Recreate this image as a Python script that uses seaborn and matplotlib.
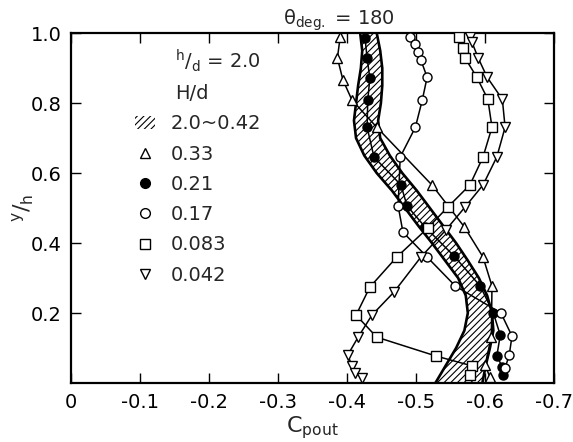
import numpy as np
import pandas as pd
import matplotlib
matplotlib.use("Agg")
import matplotlib.pyplot as plt
import seaborn as sns
from matplotlib.patches import Patch
from matplotlib.lines import Line2D

# ---------------- data ----------------
band_y = [1.0, 0.95, 0.9, 0.85, 0.8, 0.75, 0.7, 0.65, 0.6, 0.55, 0.5,
          0.45, 0.4, 0.35, 0.3, 0.25, 0.2, 0.15, 0.1, 0.05, 0.0]
band_left = [-0.419, -0.422, -0.420, -0.416, -0.413, -0.410, -0.413, -0.425,
             -0.443, -0.465, -0.484, -0.503, -0.523, -0.542, -0.561, -0.572,
             -0.575, -0.570, -0.558, -0.543, -0.528]
band_right = [-0.443, -0.448, -0.451, -0.451, -0.449, -0.445, -0.448, -0.462,
              -0.480, -0.501, -0.520, -0.539, -0.558, -0.575, -0.591, -0.603,
              -0.610, -0.612, -0.607, -0.601, -0.596]

h033_c = [-0.390, -0.386, -0.394, -0.407, -0.443, -0.523, -0.570, -0.597,
          -0.610, -0.609, -0.600, -0.607]
h033_y = [0.989, 0.929, 0.866, 0.809, 0.731, 0.566, 0.446, 0.360,
          0.277, 0.131, 0.051, 0.017]

h021_c = [-0.426, -0.429, -0.433, -0.430, -0.429, -0.439, -0.478, -0.487,
          -0.513, -0.555, -0.593, -0.612, -0.622, -0.617, -0.625, -0.626]
h021_y = [0.986, 0.929, 0.871, 0.809, 0.731, 0.646, 0.566, 0.506,
          0.446, 0.363, 0.277, 0.200, 0.137, 0.077, 0.046, 0.023]

h017_c = [-0.491, -0.499, -0.503, -0.507, -0.516, -0.509, -0.499, -0.477,
          -0.474, -0.481, -0.516, -0.557, -0.623, -0.639, -0.635, -0.629]
h017_y = [0.989, 0.969, 0.946, 0.923, 0.874, 0.809, 0.731, 0.646,
          0.506, 0.431, 0.360, 0.277, 0.200, 0.134, 0.080, 0.043]

h0083_c = [-0.562, -0.568, -0.571, -0.588, -0.604, -0.610, -0.597, -0.578,
           -0.546, -0.517, -0.472, -0.433, -0.413, -0.443, -0.529, -0.581,
           -0.578]
h0083_y = [0.989, 0.957, 0.929, 0.874, 0.811, 0.731, 0.646, 0.566,
           0.503, 0.443, 0.360, 0.274, 0.194, 0.131, 0.077, 0.049, 0.023]

h0042_c = [-0.578, -0.581, -0.590, -0.603, -0.625, -0.629, -0.617, -0.597,
           -0.571, -0.543, -0.507, -0.468, -0.436, -0.416, -0.401, -0.407,
           -0.412, -0.422]
h0042_y = [0.989, 0.974, 0.929, 0.874, 0.811, 0.731, 0.646, 0.566,
           0.503, 0.437, 0.360, 0.260, 0.194, 0.131, 0.080, 0.049,
           0.029, 0.014]

x_ticks = [0, -0.1, -0.2, -0.3, -0.4, -0.5, -0.6, -0.7]
x_tick_labels = ["0", "-0.1", "-0.2", "-0.3", "-0.4", "-0.5", "-0.6", "-0.7"]
y_ticks = [0.2, 0.4, 0.6, 0.8, 1.0]
y_tick_labels = ["0.2", "0.4", "0.6", "0.8", "1.0"]

series = [
    ("0.33", h033_c, h033_y, "^", "white"),
    ("0.21", h021_c, h021_y, "o", "black"),
    ("0.17", h017_c, h017_y, "o", "white"),
    ("0.083", h0083_c, h0083_y, "s", "white"),
    ("0.042", h0042_c, h0042_y, "v", "white"),
]

# ---------------- style ----------------
sns.set_theme(style="ticks")
plt.rcParams["font.family"] = ["DejaVu Sans"]
plt.rcParams["mathtext.default"] = "regular"
plt.rcParams["hatch.linewidth"] = 0.8
plt.rcParams["hatch.color"] = "black"

fig = plt.figure(figsize=(5.73, 4.42), dpi=100)
ax = fig.add_axes([0.124, 0.1335, 0.843, 0.7915])

# hatched band
ax.fill_betweenx(band_y, band_left, band_right, facecolor="white",
                 edgecolor="black", hatch="/////", linewidth=0, zorder=2)
sns.lineplot(x=band_left, y=band_y, sort=False, estimator=None, color="black",
             linewidth=1.9, ax=ax, zorder=3)
sns.lineplot(x=band_right, y=band_y, sort=False, estimator=None, color="black",
             linewidth=1.9, ax=ax, zorder=3)

for name, cs, ys, mk, fc in series:
    df = pd.DataFrame({"c": cs, "y": ys})
    sns.lineplot(data=df, x="c", y="y", sort=False, estimator=None,
                 color="black", linewidth=1.1, marker=mk, markersize=6.5,
                 markerfacecolor=fc, markeredgecolor="black",
                 markeredgewidth=1.0, ax=ax, zorder=4)

ax.set_xlim(0, -0.7)
ax.set_ylim(0, 1.0)
ax.set_xticks(x_ticks)
ax.set_xticklabels(x_tick_labels)
ax.set_yticks(y_ticks)
ax.set_yticklabels(y_tick_labels)
ax.tick_params(direction="in", length=7, width=1.0, top=True, right=True,
               labeltop=False, labelright=False, labelsize=14, pad=7,
               colors="black")
for s in ax.spines.values():
    s.set_linewidth(1.6)
    s.set_color("black")

ax.set_xlabel("$C_{pout}$", fontsize=16, labelpad=2)
ax.set_ylabel("$^{y}/_{h}$", fontsize=16)
ax.yaxis.set_label_coords(-0.072, 0.5)
ax.set_title(r"$\theta_{deg.}$ = 180", fontsize=14, pad=6, x=0.555)

handles = [Patch(facecolor="white", edgecolor="black", hatch="/////", linewidth=0)]
labels = ["2.0~0.42"]
for name, cs, ys, mk, fc in series:
    handles.append(Line2D([], [], linestyle="none", marker=mk, markersize=7,
                          markerfacecolor=fc, markeredgecolor="black",
                          markeredgewidth=1.0))
    labels.append(name)
leg = ax.legend(handles, labels, title="$^{h}/_{d}$ = 2.0\nH/d", frameon=False,
                loc="upper left", bbox_to_anchor=(0.105, 0.997), fontsize=14,
                title_fontsize=14, handlelength=1.0, handleheight=0.7,
                handletextpad=0.8, labelspacing=0.58, borderpad=0.2,
                alignment="right")
leg.get_title().set_linespacing(1.65)

fig.savefig("out.png", dpi=100)
